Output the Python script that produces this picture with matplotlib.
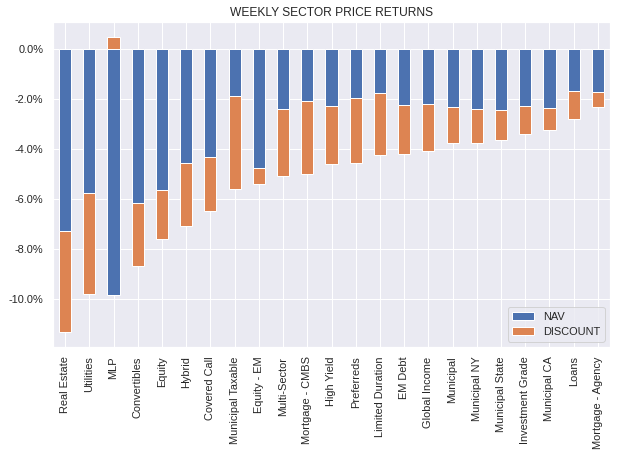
import numpy as np
import pandas as pd
import seaborn as sns
from matplotlib import pyplot as plt
from matplotlib.ticker import FuncFormatter

sectors = ['Real Estate', 'Utilities', 'MLP', 'Convertibles', 'Equity', 'Hybrid',
           'Covered Call', 'Municipal Taxable', 'Equity - EM', 'Multi-Sector',
           'Mortgage - CMBS', 'High Yield', 'Preferreds', 'Limited Duration',
           'EM Debt', 'Global Income', 'Municipal', 'Municipal NY',
           'Municipal State', 'Investment Grade', 'Municipal CA', 'Loans',
           'Mortgage - Agency']
nav = [-7.26, -5.74, -9.83, -6.15, -5.62, -4.54, -4.30, -1.85, -4.74, -2.37,
       -2.05, -2.25, -1.93, -1.73, -2.21, -2.17, -2.29, -2.37, -2.41, -2.25,
       -2.33, -1.65, -1.69]
discount = [-4.08, -4.05, 0.51, -2.55, -2.00, -2.53, -2.19, -3.76, -0.67, -2.72,
            -2.96, -2.33, -2.61, -2.49, -1.97, -1.89, -1.45, -1.37, -1.24, -1.12,
            -0.88, -1.15, -0.60]


def main():
    sns.set_theme(style='darkgrid')
    plt.rcParams['font.family'] = ['Liberation Sans', 'DejaVu Sans']

    df = pd.DataFrame({'NAV': nav, 'DISCOUNT': discount}, index=sectors)

    fig, ax = plt.subplots(figsize=(622 / 72, 457 / 72), dpi=72)
    df.plot(kind='bar', stacked=True, ax=ax)
    ax.set_title('WEEKLY SECTOR PRICE RETURNS')
    ax.yaxis.set_major_formatter(FuncFormatter(lambda v, _: '%.1f%%' % v))
    ax.legend(loc='lower right')
    fig.subplots_adjust(left=53 / 622, right=610 / 622, top=1 - 22 / 457,
                        bottom=1 - 347 / 457)
    fig.savefig('out.png', dpi=72)


if __name__ == '__main__':
    main()
